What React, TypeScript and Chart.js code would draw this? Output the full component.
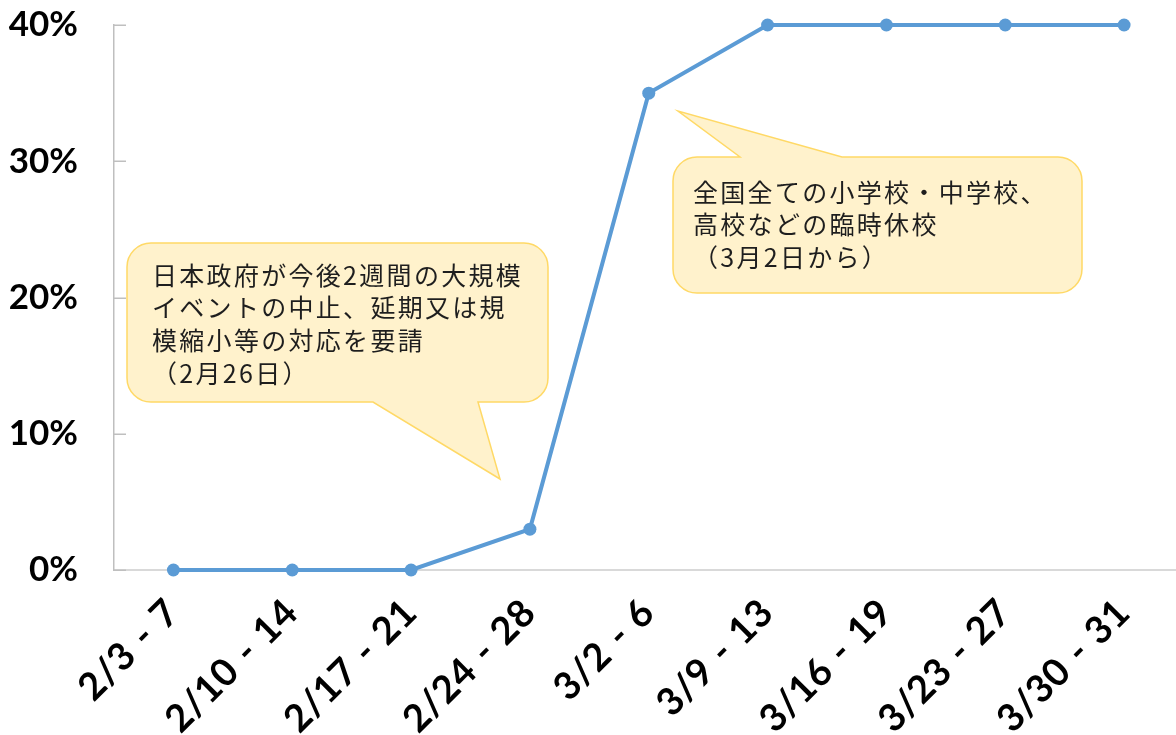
import React, { useEffect, useRef } from "react";
import { Chart, registerables } from "chart.js";

Chart.register(...registerables);

const categories = [
  "2/3 - 7",
  "2/10 - 14",
  "2/17 - 21",
  "2/24 - 28",
  "3/2 - 6",
  "3/9 - 13",
  "3/16 - 19",
  "3/23 - 27",
  "3/30 - 31",
];
const values = [0, 0, 0, 3, 35, 40, 40, 40, 40];
const yTickValues = [0, 10, 20, 30, 40];
const callout1Lines = [
  "日本政府が今後2週間の大規模",
  "イベントの中止、延期又は規",
  "模縮小等の対応を要請",
  "（2月26日）",
];
const callout2Lines = [
  "全国全ての小学校・中学校、",
  "高校などの臨時休校",
  "（3月2日から）",
];

type Callout = {
  x1: number;
  y1: number;
  x2: number;
  y2: number;
  r: number;
  edge: "top" | "bottom";
  baseA: number;
  baseB: number;
  tipX: number;
  tipY: number;
  textX: number;
  textY: number;
  lineH: number;
  lines: string[];
};

const callouts: Callout[] = [
  {
    x1: 127, y1: 243, x2: 548, y2: 402, r: 24,
    edge: "bottom", baseA: 373, baseB: 478, tipX: 500, tipY: 479,
    textX: 152, textY: 275, lineH: 32.7, lines: callout1Lines,
  },
  {
    x1: 673, y1: 157, x2: 1082, y2: 293, r: 24,
    edge: "top", baseA: 740, baseB: 842, tipX: 678, tipY: 111,
    textX: 693, textY: 192, lineH: 32.5, lines: callout2Lines,
  },
];

function drawCallout(ctx: CanvasRenderingContext2D, c: Callout) {
  const { x1, y1, x2, y2, r } = c;
  ctx.save();
  ctx.beginPath();
  ctx.moveTo(x1 + r, y1);
  if (c.edge === "top") {
    ctx.lineTo(c.baseA, y1);
    ctx.lineTo(c.tipX, c.tipY);
    ctx.lineTo(c.baseB, y1);
  }
  ctx.lineTo(x2 - r, y1);
  ctx.arcTo(x2, y1, x2, y1 + r, r);
  ctx.lineTo(x2, y2 - r);
  ctx.arcTo(x2, y2, x2 - r, y2, r);
  if (c.edge === "bottom") {
    ctx.lineTo(c.baseB, y2);
    ctx.lineTo(c.tipX, c.tipY);
    ctx.lineTo(c.baseA, y2);
  }
  ctx.lineTo(x1 + r, y2);
  ctx.arcTo(x1, y2, x1, y2 - r, r);
  ctx.lineTo(x1, y1 + r);
  ctx.arcTo(x1, y1, x1 + r, y1, r);
  ctx.closePath();
  ctx.fillStyle = "#FFF2CC";
  ctx.fill();
  ctx.lineWidth = 1.5;
  ctx.strokeStyle = "#FFD966";
  ctx.lineJoin = "miter";
  ctx.stroke();

  ctx.fillStyle = "#1e1e1e";
  ctx.font = '25px "Noto Sans CJK JP"';
  ctx.textBaseline = "middle";
  ctx.textAlign = "left";
  (ctx as any).letterSpacing = "2.3px";
  c.lines.forEach((line, i) => {
    ctx.fillText(line, c.textX, c.textY + i * c.lineH);
  });
  ctx.restore();
}

const decoPlugin = {
  id: "deco",
  afterDraw(chart: any) {
    const ctx: CanvasRenderingContext2D = chart.ctx;
    const y = chart.scales.y;
    const x = chart.scales.x;
    const left = chart.chartArea.left;
    const bottom = chart.chartArea.bottom;
    ctx.save();
    ctx.strokeStyle = "#BFBFBF";
    ctx.lineWidth = 1.5;
    yTickValues.forEach((v) => {
      const py = Math.round(y.getPixelForValue(v)) + 0.25;
      ctx.beginPath();
      ctx.moveTo(left, py);
      ctx.lineTo(left + 12, py);
      ctx.stroke();
    });
    ctx.restore();

    // rotated category labels
    ctx.save();
    ctx.fillStyle = "#000000";
    ctx.font = 'bold 38px "Lato"';
    ctx.textAlign = "right";
    ctx.textBaseline = "alphabetic";
    (ctx as any).letterSpacing = "0.5px";
    (ctx as any).wordSpacing = "2px";
    categories.forEach((label, i) => {
      const px = x.getPixelForValue(i);
      ctx.save();
      ctx.translate(px + 8, bottom + 45);
      ctx.rotate(-Math.PI / 4);
      ctx.fillText(label, 0, 0);
      ctx.restore();
    });
    ctx.restore();

    callouts.forEach((c) => drawCallout(ctx, c));
  },
};

export default function App() {
  const ref = useRef<HTMLCanvasElement | null>(null);
  useEffect(() => {
    if (!ref.current) return;
    const chart = new Chart(ref.current, {
      type: "line",
      data: {
        labels: categories,
        datasets: [
          {
            data: values,
            borderColor: "#5B9BD5",
            backgroundColor: "#5B9BD5",
            borderWidth: 4,
            pointRadius: 6.5,
            pointHoverRadius: 6.5,
            pointBackgroundColor: "#5B9BD5",
            pointBorderWidth: 0,
            tension: 0,
            clip: false as any,
          },
        ],
      },
      options: {
        responsive: false,
        animation: false,
        devicePixelRatio: 1,
        layout: { padding: { top: 25, right: 5, left: 0, bottom: 0 } },
        plugins: {
          legend: { display: false },
          tooltip: { enabled: false },
          title: { display: false },
        },
        scales: {
          x: {
            type: "category",
            offset: true,
            grid: { display: true, drawOnChartArea: false, drawTicks: false },
            border: { display: true, color: "#D9D9D9", width: 2 },
            ticks: { display: false, autoSkip: false },
            afterFit(scale: any) {
              scale.height = 165;
              scale.paddingTop = 0;
              scale.paddingRight = 0;
              scale.paddingLeft = 0;
            },
          },
          y: {
            min: 0,
            max: 40,
            grid: { display: true, drawOnChartArea: false, drawTicks: false },
            border: { display: true, color: "#BFBFBF", width: 1.5 },
            ticks: {
              stepSize: 10,
              padding: 36,
              color: "#000000",
              font: { family: "Lato", weight: "bold", size: 35 },
              callback: (v: any) => v + "%",
            },
            afterFit(scale: any) {
              scale.width = 114;
              scale.paddingTop = 0;
              scale.paddingBottom = 0;
            },
          },
        },
      },
      plugins: [decoPlugin],
    });
    return () => chart.destroy();
  }, []);
  return (
    <div
      style={{
        position: "fixed",
        left: 0,
        top: 0,
        width: 1176,
        height: 735,
        overflow: "hidden",
        background: "#ffffff",
      }}
    >
      <canvas ref={ref} width={1190} height={735} style={{ display: "block" }} />
    </div>
  );
}
